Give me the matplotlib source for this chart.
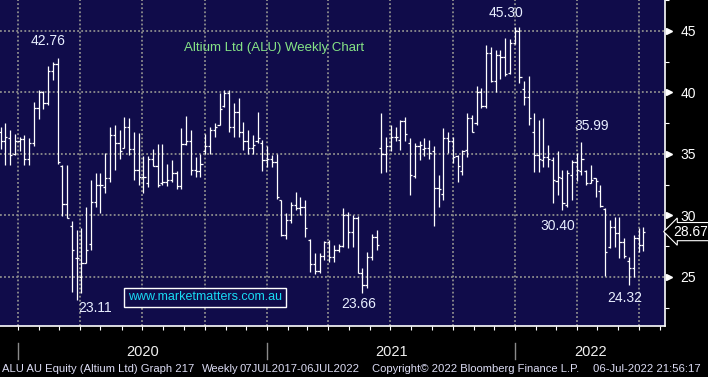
import matplotlib
matplotlib.use("Agg")
import matplotlib.pyplot as plt
import matplotlib.dates as mdates
import numpy as np
import pandas as pd

# ---------------- data (weekly OHLC) ----------------
first_week = "2019-12-06"
opens = [36.8, 36.0, 36.3, 35.0, 36.0, 36.2, 34.6, 35.9, 38.7, 40.0,
         39.1, 41.7, 42.3, 34.0, 30.9, 29.1, 26.5, 25.0, 26.1, 27.7,
         31.1, 32.5, 32.3, 33.0, 36.5, 35.9, 35.5, 37.2, 35.4, 33.7,
         33.1, 32.6, 34.6, 34.0, 32.6, 32.7, 32.9, 33.4, 32.4, 35.8,
         36.0, 33.7, 33.6, 35.2, 35.6, 36.9, 37.3, 38.9, 39.9, 37.2,
         38.4, 36.8, 36.0, 35.5, 36.0, 35.9, 34.5, 34.6, 34.3, 31.2,
         28.4, 29.6, 30.8, 30.6, 30.7, 28.0, 26.0, 25.5, 26.7, 27.8,
         26.6, 27.2, 27.5, 30.0, 28.6, 29.8, 25.3, 24.3, 26.6, 28.2,
         35.5, 35.0, 35.6, 36.4, 36.1, 37.7, 35.9, 33.2, 35.6, 35.4,
         35.5, 35.2, 32.2, 31.7, 36.3, 36.0, 34.8, 33.6, 35.3, 37.9,
         37.5, 40.0, 38.9, 43.2, 40.9, 43.0, 42.9, 41.6, 44.0, 45.0,
         40.3, 39.6, 36.8, 34.9, 34.5, 34.7, 34.5, 32.8, 33.0, 30.8,
         33.3, 34.3, 33.6, 33.6, 32.6, 33.0, 32.0, 30.5, 27.4, 29.07,
         28.53, 27.8, 26.3, 25.68, 28.12, 27.58]
highs = [37.2, 37.5, 36.9, 36.6, 36.4, 36.5, 36.3, 39.2, 40.2, 40.1,
         42.1, 42.5, 42.76, 34.1, 34.1, 29.5, 28.8, 29.0, 30.7, 32.9,
         33.4, 33.4, 35.1, 37.2, 37.3, 36.9, 38.0, 37.9, 36.8, 36.7,
         34.8, 34.8, 35.4, 35.8, 35.8, 34.2, 34.5, 33.6, 37.1, 38.1,
         36.9, 34.7, 35.0, 36.6, 37.2, 37.5, 39.9, 40.2, 40.2, 39.1,
         39.5, 37.6, 36.9, 36.5, 38.4, 36.1, 35.6, 34.9, 35.0, 31.2,
         30.2, 31.1, 31.9, 31.5, 31.2, 28.1, 26.9, 26.9, 27.9, 28.0,
         27.6, 27.7, 30.6, 30.3, 30.0, 29.9, 25.7, 27.0, 28.5, 28.8,
         38.3, 36.4, 37.3, 37.2, 37.75, 38.0, 36.3, 35.85, 36.0, 36.26,
         36.1, 35.6, 33.3, 37.07, 36.74, 36.4, 34.9, 35.3, 38.3, 38.15,
         40.5, 40.37, 43.84, 43.65, 43.43, 43.43, 44.38, 44.33, 45.30, 45.28,
         40.9, 41.3, 38.28, 37.74, 37.88, 35.7, 34.76, 35.25, 33.67, 33.67,
         34.49, 35.03, 35.99, 33.67, 34.08, 33.0, 32.46, 30.56, 29.61, 29.83,
         29.83, 28.12, 26.63, 28.39, 28.93, 29.07]
lows = [35.4, 34.1, 34.1, 34.9, 35.2, 34.1, 34.1, 35.6, 37.8, 38.6,
        39.0, 41.0, 34.2, 29.9, 29.8, 23.8, 23.11, 23.7, 26.1, 27.2,
        30.7, 30.2, 31.8, 32.7, 33.7, 34.6, 35.5, 34.9, 32.9, 32.5,
        31.8, 32.3, 34.0, 32.3, 32.5, 32.4, 32.7, 32.1, 32.1, 35.7,
        33.3, 33.1, 33.1, 35.0, 35.0, 36.4, 37.3, 38.8, 36.8, 36.4,
        36.4, 35.3, 35.0, 35.0, 35.85, 33.6, 33.9, 33.9, 31.3, 28.3,
        28.1, 29.4, 30.4, 30.0, 28.2, 25.4, 25.2, 25.3, 26.4, 26.2,
        26.2, 27.0, 27.4, 27.3, 27.4, 25.3, 23.66, 24.1, 26.4, 27.2,
        33.4, 33.55, 35.2, 36.0, 35.3, 36.0, 31.65, 33.0, 34.5, 34.8,
        34.55, 29.1, 30.7, 31.24, 35.1, 34.22, 32.73, 33.27, 34.76, 36.8,
        37.34, 38.75, 38.75, 40.86, 39.99, 41.05, 41.35, 41.5, 43.9, 40.72,
        38.96, 37.34, 33.49, 33.54, 33.95, 33.95, 30.96, 31.64, 30.40, 30.64,
        31.24, 32.78, 33.27, 32.46, 32.59, 31.51, 30.69, 25.06, 27.31, 27.39,
        26.49, 26.49, 24.32, 25.0, 27.04, 27.12]
closes = [36.0, 36.4, 34.9, 36.0, 36.2, 34.6, 35.9, 38.7, 40.0, 39.1,
          41.7, 42.3, 34.3, 30.9, 29.8, 27.2, 26.5, 26.1, 27.2, 31.1,
          32.5, 32.5, 33.0, 36.5, 35.9, 35.2, 37.2, 35.4, 33.7, 33.1,
          33.1, 34.6, 34.0, 32.5, 32.7, 32.9, 33.4, 32.4, 35.8, 36.0,
          33.7, 33.6, 34.2, 35.6, 36.9, 37.2, 38.6, 39.9, 37.2, 38.4,
          36.8, 36.0, 35.5, 35.7, 36.3, 34.5, 34.6, 34.3, 31.5, 28.4,
          29.6, 30.8, 30.6, 30.7, 29.0, 26.0, 25.5, 26.7, 27.8, 26.6,
          27.2, 27.5, 30.0, 28.6, 29.8, 25.3, 24.3, 26.6, 28.2, 27.6,
          35.0, 35.6, 36.4, 36.4, 37.7, 36.6, 33.3, 35.6, 35.7, 35.5,
          35.1, 32.2, 32.1, 36.3, 36.0, 34.76, 34.0, 35.25, 37.9, 36.8,
          40.0, 38.9, 43.2, 40.9, 43.0, 42.9, 41.5, 44.0, 45.0, 41.2,
          39.6, 37.9, 34.9, 34.57, 34.7, 34.54, 32.86, 33.13, 31.0, 33.4,
          34.35, 33.67, 34.6, 32.6, 32.86, 32.8, 30.75, 27.04, 29.07, 28.53,
          27.8, 26.7, 25.68, 28.12, 27.58, 28.67]

y_ticks = [25, 30, 35, 40, 45]
year_labels = ["2020", "2021", "2022"]
extreme_labels = ["42.76", "23.11", "23.66", "45.30", "35.99", "30.40", "24.32"]
title_text = "Altium Ltd (ALU) Weekly Chart"
site_text = "www.marketmatters.com.au"
last_price = 28.67

# ---------------- styling ----------------
BG = "#100c4a"
FONT = ["Liberation Sans", "DejaVu Sans"]
plt.rcParams["font.family"] = FONT

W, H = 708, 377
fig = plt.figure(figsize=(W / 100, H / 100), dpi=100, facecolor="black")
ax_left, ax_right, ax_top, ax_bottom = 0, 665, 0, 326
ax = fig.add_axes([ax_left / W, 1 - ax_bottom / H, (ax_right - ax_left) / W, (ax_bottom - ax_top) / H])
ax.set_facecolor(BG)

dates = pd.date_range(first_week, periods=len(closes), freq="7D")
xd = mdates.date2num(dates)
o, h, l, c = map(np.asarray, (opens, highs, lows, closes))

px_per_day = 0.6802
tick_days = 3.2
ax.vlines(xd, l, h, color="white", lw=0.9)
ax.hlines(o, xd - tick_days, xd, color="white", lw=0.9)
ax.hlines(c, xd, xd + tick_days, color="white", lw=0.9)

x_left = xd[0] - 0.5 / px_per_day
ax.set_xlim(x_left, x_left + (ax_right - ax_left) / px_per_day)
ax.set_ylim(47.5 - ax_bottom / 12.3, 47.5)

# grid
ax.xaxis.set_major_locator(mdates.MonthLocator(bymonth=[1, 4, 7, 10]))
ax.xaxis.set_minor_locator(mdates.MonthLocator())
ax.xaxis.set_major_formatter(plt.NullFormatter())
ax.set_yticks(y_ticks)
ax.set_yticks(np.arange(22.5, 47.6, 5), minor=True)
ax.grid(True, which="major", color="#8d8d8d", linestyle=(0, (1.0, 1.25)), linewidth=1.3)
ax.set_axisbelow(True)

for s in ["top", "left"]:
    ax.spines[s].set_visible(False)
for s in ["right", "bottom"]:
    ax.spines[s].set_color("white")
    ax.spines[s].set_linewidth(1.2)

ax.tick_params(axis="x", which="both", direction="out", length=3, width=0.8, color="white", labelbottom=False)
ax.yaxis.tick_right()
ax.tick_params(axis="y", which="major", length=0, pad=11, labelcolor="white", labelsize=10)
ax.tick_params(axis="y", which="minor", length=3, width=0.8, color="white")

# pointer markers at the y tick labels
ytr = ax.get_yaxis_transform()
ax.plot([1.006] * len(y_ticks), y_ticks, linestyle="none", marker=">", markersize=5,
        color="white", transform=ytr, clip_on=False)

# last price box
ax.annotate(f"{last_price:.2f}", xy=(1.0, last_price), xycoords=ytr,
            xytext=(6, 0), textcoords="offset points", ha="left", va="center",
            color="white", fontsize=10,
            bbox=dict(boxstyle="larrow,pad=0.15", fc="black", ec="white", lw=0.8),
            annotation_clip=False)

# extreme labels
idx = {
    "42.76": (int(np.argmax(h[:40])), "high", (-7, 12.5)),
    "23.11": (int(np.argmin(l[:40])), "low", (13, -6)),
    "23.66": (int(np.argmin(l[40:100])) + 40, "low", (-3, -8)),
    "45.30": (int(np.argmax(h)), "high", (-6.5, 10)),
    "35.99": (int(np.argmax(h[115:])) + 115, "high", (7.5, 11)),
    "30.40": (int(np.argmin(l[110:127])) + 110, "low", (-3, -11)),
    "24.32": (int(np.argmin(l[120:])) + 120, "low", (-3, -9)),
}
for txt in extreme_labels:
    i, kind, off = idx[txt]
    val = h[i] if kind == "high" else l[i]
    ax.annotate(f"{val:.2f}", xy=(xd[i], val), xytext=off, textcoords="offset points",
                ha="center", va="center", color="#e8eeff", fontsize=10)

# title and site box
ax.text(274 / 665, 1 - 47.5 / 326, title_text, transform=ax.transAxes, ha="center", va="center",
        color="#86e486", fontsize=9.5)
ax.text(205 / 665, (326 - 297.5) / 326, site_text, transform=ax.transAxes, ha="center", va="center",
        color="#19dcf5", fontsize=9,
        bbox=dict(boxstyle="square,pad=0.3", fc=BG, ec="white", lw=1.0))

# year labels and separators
xtr = ax.get_xaxis_transform()
xmax = ax.get_xlim()[1]
for yl in year_labels:
    start = mdates.date2num(pd.Timestamp(f"{yl}-01-01"))
    end = min(mdates.date2num(pd.Timestamp(f"{int(yl) + 1}-01-01")), xmax)
    ax.text((start + end) / 2, -26 / 326, yl, transform=xtr, ha="center", va="center",
            color="#f0f0f0", fontsize=10.5)
    ax.plot([start, start], [-17 / 326, -33 / 326], transform=xtr, color="#8a8a8a", lw=1.0,
            clip_on=False)

# footer
footer = [
    (2, "ALU AU Equity (Altium Ltd) Graph 217"),
    (202, "Weekly"),
    (240, "07JUL2017-06JUL2022"),
    (372, "Copyright\u00a9 2022 Bloomberg Finance L.P."),
    (593, "06-Jul-2022 21:56:17"),
]
for xp, t in footer:
    fig.text(xp / W, (H - 369) / H, t, ha="left", va="center", color="#dcdcf4", fontsize=8.1)

fig.savefig("out.png", dpi=100, facecolor="black")
